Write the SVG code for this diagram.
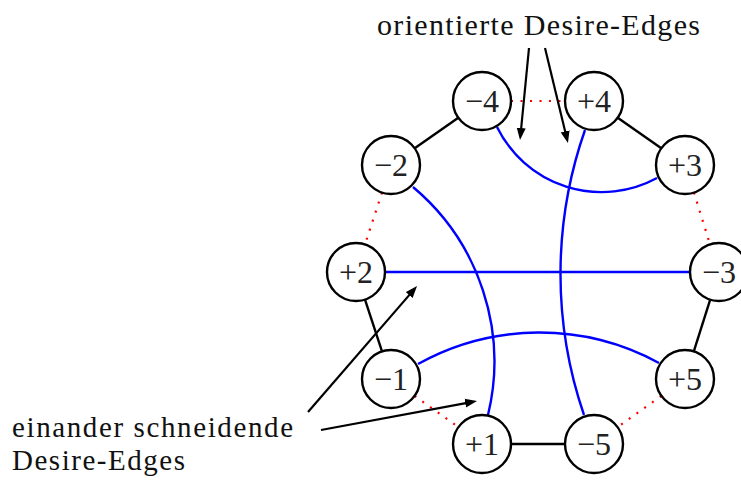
<svg xmlns="http://www.w3.org/2000/svg" width="741" height="483" viewBox="0 0 741 483">
<style>
.node circle{fill:#fff;stroke:#000;stroke-width:2.4}
.node text{font-family:"Liberation Serif","DejaVu Serif",serif;font-size:32px;fill:#222;text-anchor:middle}
.lbl{font-family:"Liberation Serif","DejaVu Serif",serif;font-size:30px;fill:#111}
.lbl2{font-family:"Liberation Serif","DejaVu Serif",serif;font-size:29px;fill:#111}
.blk{stroke:#000;stroke-width:2.4;fill:none}
.red{stroke:#f00;stroke-width:2.2;fill:none;stroke-dasharray:2 7.5}
.blue{stroke:#00f;stroke-width:2.4;fill:none}
.arr{stroke:#000;stroke-width:2.2;fill:none;marker-end:url(#ah)}
</style>
<defs>
<marker id="ah" markerUnits="userSpaceOnUse" viewBox="0 0 12 10" refX="2" refY="5" markerWidth="12" markerHeight="10" orient="auto">
<path d="M0,0.5 L12,5 L0,9.5 Z" fill="#000"/>
</marker>
</defs>
<g id="connectors">
<line class="blk" x1="458.3" y1="117.7" x2="414.7" y2="148.3"/>
<line class="blk" x1="617.7" y1="117.7" x2="661.3" y2="148.3"/>
<line class="blk" x1="710.2" y1="299.6" x2="693.8" y2="351.4"/>
<line class="blk" x1="365" y1="299.6" x2="382" y2="351.4"/>
<line class="blk" x1="511" y1="444" x2="565" y2="444"/>
<line class="red" x1="511" y1="101" x2="565" y2="101"/>
<line class="red" x1="382" y1="192.6" x2="365" y2="244.4"/>
<line class="red" x1="694" y1="192.6" x2="710" y2="244.4"/>
<line class="red" x1="414.6" y1="395.9" x2="458.4" y2="427.1"/>
<line class="red" x1="661.4" y1="395.9" x2="617.6" y2="427.1"/>
<path class="blue" d="M497,127 A116.4,116.4 0 0 0 657,178"/>
<path class="blue" d="M585,130 A435,435 0 0 0 584,415"/>
<path class="blue" d="M413,187 A228,228 0 0 1 488,415"/>
<path class="blue" d="M418,364 A250,250 0 0 1 659,363"/>
<line class="blue" x1="385" y1="272" x2="690" y2="272"/>
<line class="arr" x1="529" y1="48" x2="521" y2="130"/>
<line class="arr" x1="545" y1="48" x2="565.6" y2="133.3"/>
<line class="arr" x1="308" y1="412" x2="410.5" y2="293.6"/>
<line class="arr" x1="321" y1="430" x2="467.2" y2="402.8"/>
</g>
<g id="n-4" class="node"><circle cx="482" cy="101" r="29"/><text x="482" y="112">−4</text></g>
<g id="n+4" class="node"><circle cx="594" cy="101" r="29"/><text x="594" y="112">+4</text></g>
<g id="n-2" class="node"><circle cx="391" cy="165" r="29"/><text x="391" y="176">−2</text></g>
<g id="n+3" class="node"><circle cx="685" cy="165" r="29"/><text x="685" y="176">+3</text></g>
<g id="n+2" class="node"><circle cx="356" cy="272" r="29"/><text x="356" y="283">+2</text></g>
<g id="n-3" class="node"><circle cx="719" cy="272" r="29"/><text x="719" y="283">−3</text></g>
<g id="n-1" class="node"><circle cx="391" cy="379" r="29"/><text x="391" y="390">−1</text></g>
<g id="n+5" class="node"><circle cx="685" cy="379" r="29"/><text x="685" y="390">+5</text></g>
<g id="n+1" class="node"><circle cx="482" cy="444" r="29"/><text x="482" y="455">+1</text></g>
<g id="n-5" class="node"><circle cx="594" cy="444" r="29"/><text x="594" y="455">−5</text></g>
<g id="labels">
<text class="lbl" x="377" y="35" textLength="323" lengthAdjust="spacing">orientierte Desire-Edges</text>
<text class="lbl2" x="12" y="437" textLength="281" lengthAdjust="spacing">einander schneidende</text>
<text class="lbl2" x="12" y="470" textLength="173" lengthAdjust="spacing">Desire-Edges</text>
</g>
</svg>
